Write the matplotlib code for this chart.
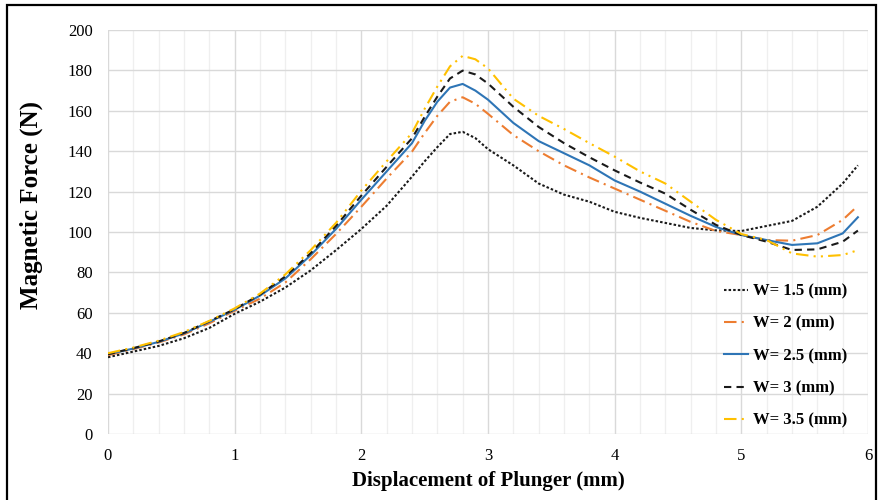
import matplotlib.pyplot as plt
from matplotlib.patches import Rectangle
from matplotlib.ticker import MultipleLocator

plt.rcParams['font.family'] = ['Liberation Serif', 'DejaVu Serif']

# displacement of plunger (mm)
x = [0, 0.2, 0.4, 0.6, 0.8, 1.0, 1.2, 1.4, 1.6, 1.8, 2.0, 2.2, 2.4, 2.5, 2.6, 2.7, 2.8,
     2.9, 3.0, 3.2, 3.4, 3.6, 3.8, 4.0, 4.2, 4.4, 4.6, 4.8, 5.0, 5.2, 5.4, 5.6, 5.8, 5.92]

# magnetic force (N) for each width
w15 = [38, 40.8, 43.6, 47.4, 52.5, 59.5, 65.5, 72.5, 81, 91, 101.5, 113, 127.4, 135, 142,
       148.5, 149.6, 146.5, 141, 133, 124, 118.5, 115, 110, 107, 104.5, 102, 100.8, 100.5,
       103, 105.5, 112.5, 124, 133]
w20 = [39, 42, 45.3, 49.3, 54.8, 61, 67, 75, 86.5, 99, 112.5, 126.5, 139.8, 149, 157.5,
       164.5, 166.7, 163.5, 158.5, 148, 140, 133, 127, 121.5, 116, 110.5, 105, 100.5, 98.5,
       96, 95.7, 98.5, 106, 113]
w25 = [39.5, 42.3, 45.6, 49.8, 55.5, 61.5, 68.5, 77, 88.5, 101.5, 116, 130, 144, 155, 164.5,
       171.5, 173.3, 170, 165.5, 154, 145, 139, 133, 125.5, 120, 114, 108, 102.5, 98.5,
       96, 93.6, 94.4, 99.3, 107.3]
w30 = [39.5, 42.5, 45.8, 50, 55.8, 61.8, 69, 78, 89.5, 103, 118, 132.3, 146.4, 157, 167,
       176, 179.9, 178, 173.5, 162, 152, 144, 137, 130.5, 124.5, 119, 111, 103.5, 98.5,
       95.2, 91.1, 91.4, 95.2, 100.7]
w35 = [40, 42.8, 46.2, 50.5, 56, 62.2, 69.5, 79, 91, 104.5, 120.5, 135, 149, 161, 172,
       182, 187.2, 185.5, 181, 166, 157.5, 151, 144, 137.3, 130, 124, 115, 106, 99,
       96, 89.4, 87.8, 88.6, 91]

labels = ['W= 1.5 (mm)', 'W= 2 (mm)', 'W= 2.5 (mm)', 'W= 3 (mm)', 'W= 3.5 (mm)']

fig = plt.figure(figsize=(8.8, 5), dpi=100)
ax = fig.add_axes([0.1227, 0.132, 0.8637, 0.808])

ax.plot(x, w15, color='#1a1a1a', lw=1.5, dashes=(1.2, 1.0), label=labels[0])
ax.plot(x, w20, color='#ED7D31', lw=1.5, dashes=(6, 2.5, 1, 2.5), label=labels[1])
ax.plot(x, w25, color='#2E75B6', lw=1.5, label=labels[2])
ax.plot(x, w30, color='#1a1a1a', lw=1.5, dashes=(3.5, 2.5), label=labels[3])
ax.plot(x, w35, color='#FFC000', lw=1.5, dashes=(6, 2.5, 1, 2.5, 1, 2.5), label=labels[4])

ax.set_xlim(0, 6)
ax.set_ylim(0, 200)
ax.xaxis.set_major_locator(MultipleLocator(1))
ax.xaxis.set_minor_locator(MultipleLocator(0.2))
ax.yaxis.set_major_locator(MultipleLocator(20))
ax.grid(which='major', color='#d9d9d9', lw=1.0)
ax.grid(which='minor', axis='x', color='#efefef', lw=0.9)
ax.set_axisbelow(True)
for s in ax.spines.values():
    s.set_visible(False)
ax.tick_params(which='both', length=0, labelsize=12)
ax.tick_params(axis='y', pad=11)
ax.tick_params(axis='x', pad=10)

ax.set_xlabel('Displacement of Plunger (mm)', fontsize=15, fontweight='bold', labelpad=5)
ax.set_ylabel('Magnetic Force (N)', fontsize=18, fontweight='bold')
ax.yaxis.set_label_coords(-0.085, 0.567)

leg = ax.legend(loc='upper left', bbox_to_anchor=(0.791, 0.41), frameon=False,
                prop={'size': 12, 'weight': 'bold'}, handlelength=1.4,
                handletextpad=0.3, labelspacing=0.98)

fig.patches.append(Rectangle((0.008, -0.01), 0.988, 1.0, transform=fig.transFigure,
                             fill=False, edgecolor='black', lw=1.6))

fig.savefig('out.png', dpi=100)
